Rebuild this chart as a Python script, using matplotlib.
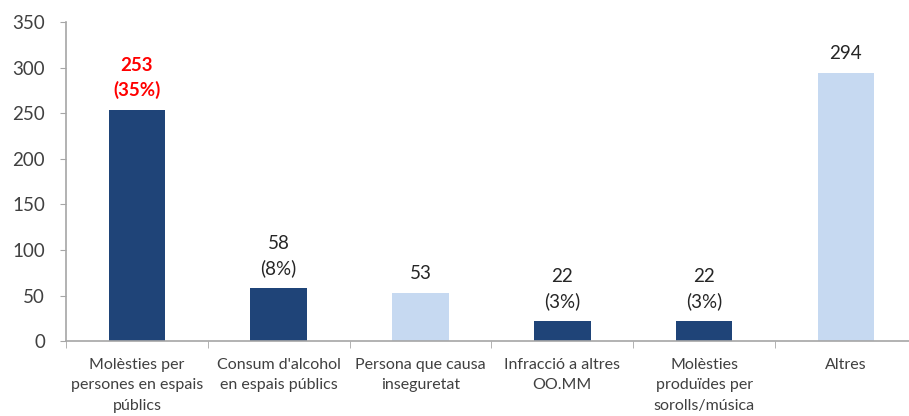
import matplotlib
matplotlib.use("Agg")
import matplotlib.pyplot as plt
import numpy as np

plt.rcParams['font.family'] = ['Lato', 'DejaVu Sans']

categories = [
    "Molèsties per\npersones en espais\npúblics",
    "Consum d'alcohol\nen espais públics",
    "Persona que causa\ninseguretat",
    "Infracció a altres\nOO.MM",
    "Molèsties\nproduïdes per\nsorolls/música",
    "Altres",
]
values = [253, 58, 53, 22, 22, 294]
percents = ["35%", "8%", None, "3%", "3%", None]
highlight = [True, True, False, True, True, False]

dark = "#1F4478"
light = "#C6D9F1"
axis_col = "#A6A6A6"
text_col = "#404040"

fig = plt.figure(figsize=(9.09, 4.16), dpi=100)
ax = fig.add_axes([0.0726, 0.180, 0.936, 0.767])

x = np.arange(len(values))
colors = [dark if h else light for h in highlight]
ax.bar(x, values, width=0.40, color=colors)

# value labels above bars, first one in red
for i, (v, p) in enumerate(zip(values, percents)):
    label = f"{v}\n({p})" if p else str(v)
    if i == 0:
        kw = dict(color="#FF0000", fontweight="bold")
    else:
        kw = dict(color="#262626")
    ax.annotate(label, (x[i], v), xytext=(0, 8), textcoords="offset points",
                ha="center", va="bottom", fontsize=13.5, linespacing=1.5, **kw)

ax.set_xlim(-0.5, len(values) - 0.5)
ax.set_ylim(0, 350)
ax.set_yticks(range(0, 351, 50))
ax.set_xticks(x)
ax.set_xticklabels(categories, fontsize=11.5, color=text_col, linespacing=1.6)
ax.set_xticks(np.arange(-0.5, len(values)), minor=True)

ax.tick_params(axis="y", labelsize=13.5, labelcolor=text_col, color=axis_col,
               length=4, pad=11)
ax.tick_params(axis="x", which="major", length=0, pad=12)
ax.tick_params(axis="x", which="minor", length=5, color=axis_col)

for s in ["top", "right"]:
    ax.spines[s].set_visible(False)
for s in ["left", "bottom"]:
    ax.spines[s].set_color(axis_col)
    ax.spines[s].set_linewidth(1.2)

fig.savefig("out.png", dpi=100)
